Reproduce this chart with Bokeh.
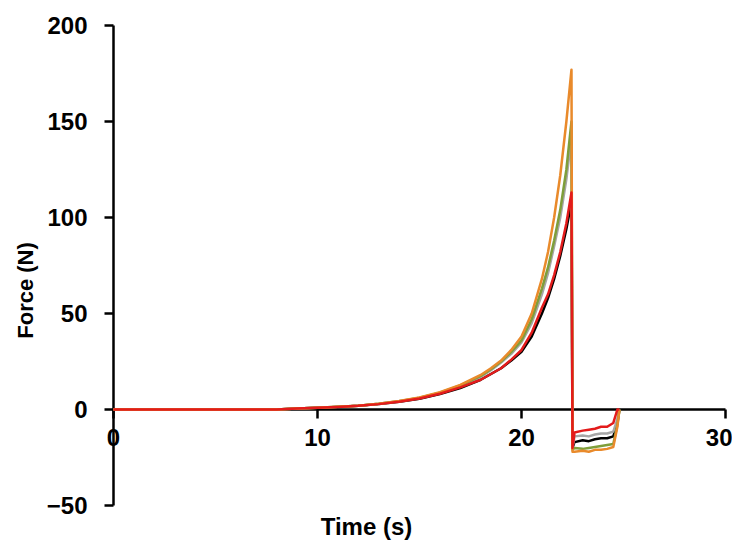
from bokeh.plotting import figure
from bokeh.models import Range1d, Label, FixedTicker
from bokeh.embed import file_html
from bokeh.resources import INLINE
import math

# Time (s) samples shared by every trial
time_s = [0, 2, 4, 6, 8, 8.5, 9, 10, 11, 12, 13, 14, 15, 16, 17, 18, 18.5, 19, 19.5,
          20, 20.5, 21, 21.3, 21.6, 21.9, 22.2, 22.45, 22.5, 22.6, 23.0, 23.3, 23.6,
          23.9, 24.2, 24.5, 24.7, 24.8]

force_orange = [0, 0, 0, 0, 0, 0.3, 0.5, 0.9, 1.4, 2.0, 3.0, 4.4, 6.3, 9.0, 12.8, 18.0, 21.5,
                25.5, 31.0, 38.0, 50.0, 68.0, 82.0, 100.0, 122.0, 150.0, 177.0, -22.0, -22.0,
                -21.5, -22.0, -21.0, -21.0, -20.5, -19.5, -9.0, 0]
force_green = [0, 0, 0, 0, 0, 0.3, 0.5, 0.9, 1.4, 2.0, 3.0, 4.3, 6.1, 8.8, 12.5, 17.5, 21.0,
               25.0, 30.0, 36.0, 47.0, 63.0, 74.0, 88.0, 104.0, 125.0, 150.0, -21.0, -20.0,
               -20.5, -20.0, -19.5, -19.0, -18.5, -18.0, -8.0, 0]
force_grey = [0, 0, 0, 0, 0, 0.3, 0.5, 0.9, 1.4, 2.0, 3.0, 4.3, 6.0, 8.6, 12.2, 17.0, 20.5,
              24.5, 29.0, 35.0, 45.0, 60.0, 71.0, 85.0, 100.0, 120.0, 142.0, -20.0, -14.0,
              -13.5, -14.0, -13.0, -12.5, -12.5, -11.5, -5.0, 0]
force_black = [0, 0, 0, 0, 0, 0.3, 0.5, 0.9, 1.3, 1.9, 2.8, 4.0, 5.6, 8.0, 11.2, 15.5, 18.5,
               21.5, 25.5, 30.0, 38.0, 50.0, 58.0, 68.0, 80.0, 94.0, 108.0, -20.0, -17.0,
               -16.0, -16.5, -15.5, -15.0, -15.0, -14.0, -7.0, 0]
force_red = [0, 0, 0, 0, 0, 0.3, 0.5, 0.9, 1.3, 1.9, 2.8, 4.0, 5.7, 8.2, 11.5, 15.5, 18.5,
             21.5, 26.0, 31.0, 40.0, 53.0, 60.0, 70.0, 82.0, 97.0, 113.0, -20.0, -12.0,
             -11.0, -10.5, -10.0, -9.0, -9.0, -7.0, 0, 0]

series = [
    (force_black, "#000000"),
    (force_grey, "#A6A6A6"),
    (force_green, "#7F9E3A"),
    (force_orange, "#E98A2B"),
    (force_red, "#E31B1B"),
]

x_ticks = [0, 10, 20, 30]
y_ticks = [-50, 0, 50, 100, 150, 200]
x_title = "Time (s)"
y_title = "Force (N)"

FONT = "Liberation Sans"

# Frame covers the whole canvas; both axes sit at fixed data positions.
p = figure(width=732, height=543, output_backend="svg", toolbar_location=None,
           x_range=Range1d(-5.539, 30.343), y_range=Range1d(-69.79, 213.02),
           min_border_left=0, min_border_right=0, min_border_top=0, min_border_bottom=0)
p.title.visible = False
p.outline_line_color = None
p.xgrid.visible = False
p.ygrid.visible = False
p.background_fill_color = "white"

for ys, col in series:
    p.line(time_s, ys, line_color=col, line_width=2.5, line_join="round", level="overlay")

for ax in (p.xaxis, p.yaxis):
    ax.axis_line_color = "black"
    ax.axis_line_width = 2.5
    ax.major_tick_line_color = "black"
    ax.major_tick_line_width = 2.5
    ax.major_tick_in = 0
    ax.major_tick_out = 9
    ax.minor_tick_line_color = None
    ax.major_label_text_font = FONT
    ax.major_label_text_font_style = "bold"
    ax.major_label_text_font_size = "24px"
    ax.major_label_text_color = "black"

p.xaxis.fixed_location = 0
p.xaxis.bounds = (0, 30)
p.xaxis.ticker = FixedTicker(ticks=x_ticks)
p.xaxis.major_label_standoff = 10
p.yaxis.fixed_location = 0
p.yaxis.bounds = (-50, 200)
p.yaxis.ticker = FixedTicker(ticks=y_ticks)
p.yaxis.major_label_standoff = 17

p.add_layout(Label(x=12.4, y=-61.0, text=x_title, text_font=FONT, text_font_style="bold",
                   text_font_size="24px", text_align="center", text_baseline="middle",
                   text_color="black"))
p.add_layout(Label(x=-4.3, y=62, text=y_title, text_font=FONT, text_font_style="bold",
                   text_font_size="22px", text_align="center", text_baseline="middle",
                   angle=math.pi / 2, text_color="black"))

open("out.html", "w").write(file_html(p, INLINE))
